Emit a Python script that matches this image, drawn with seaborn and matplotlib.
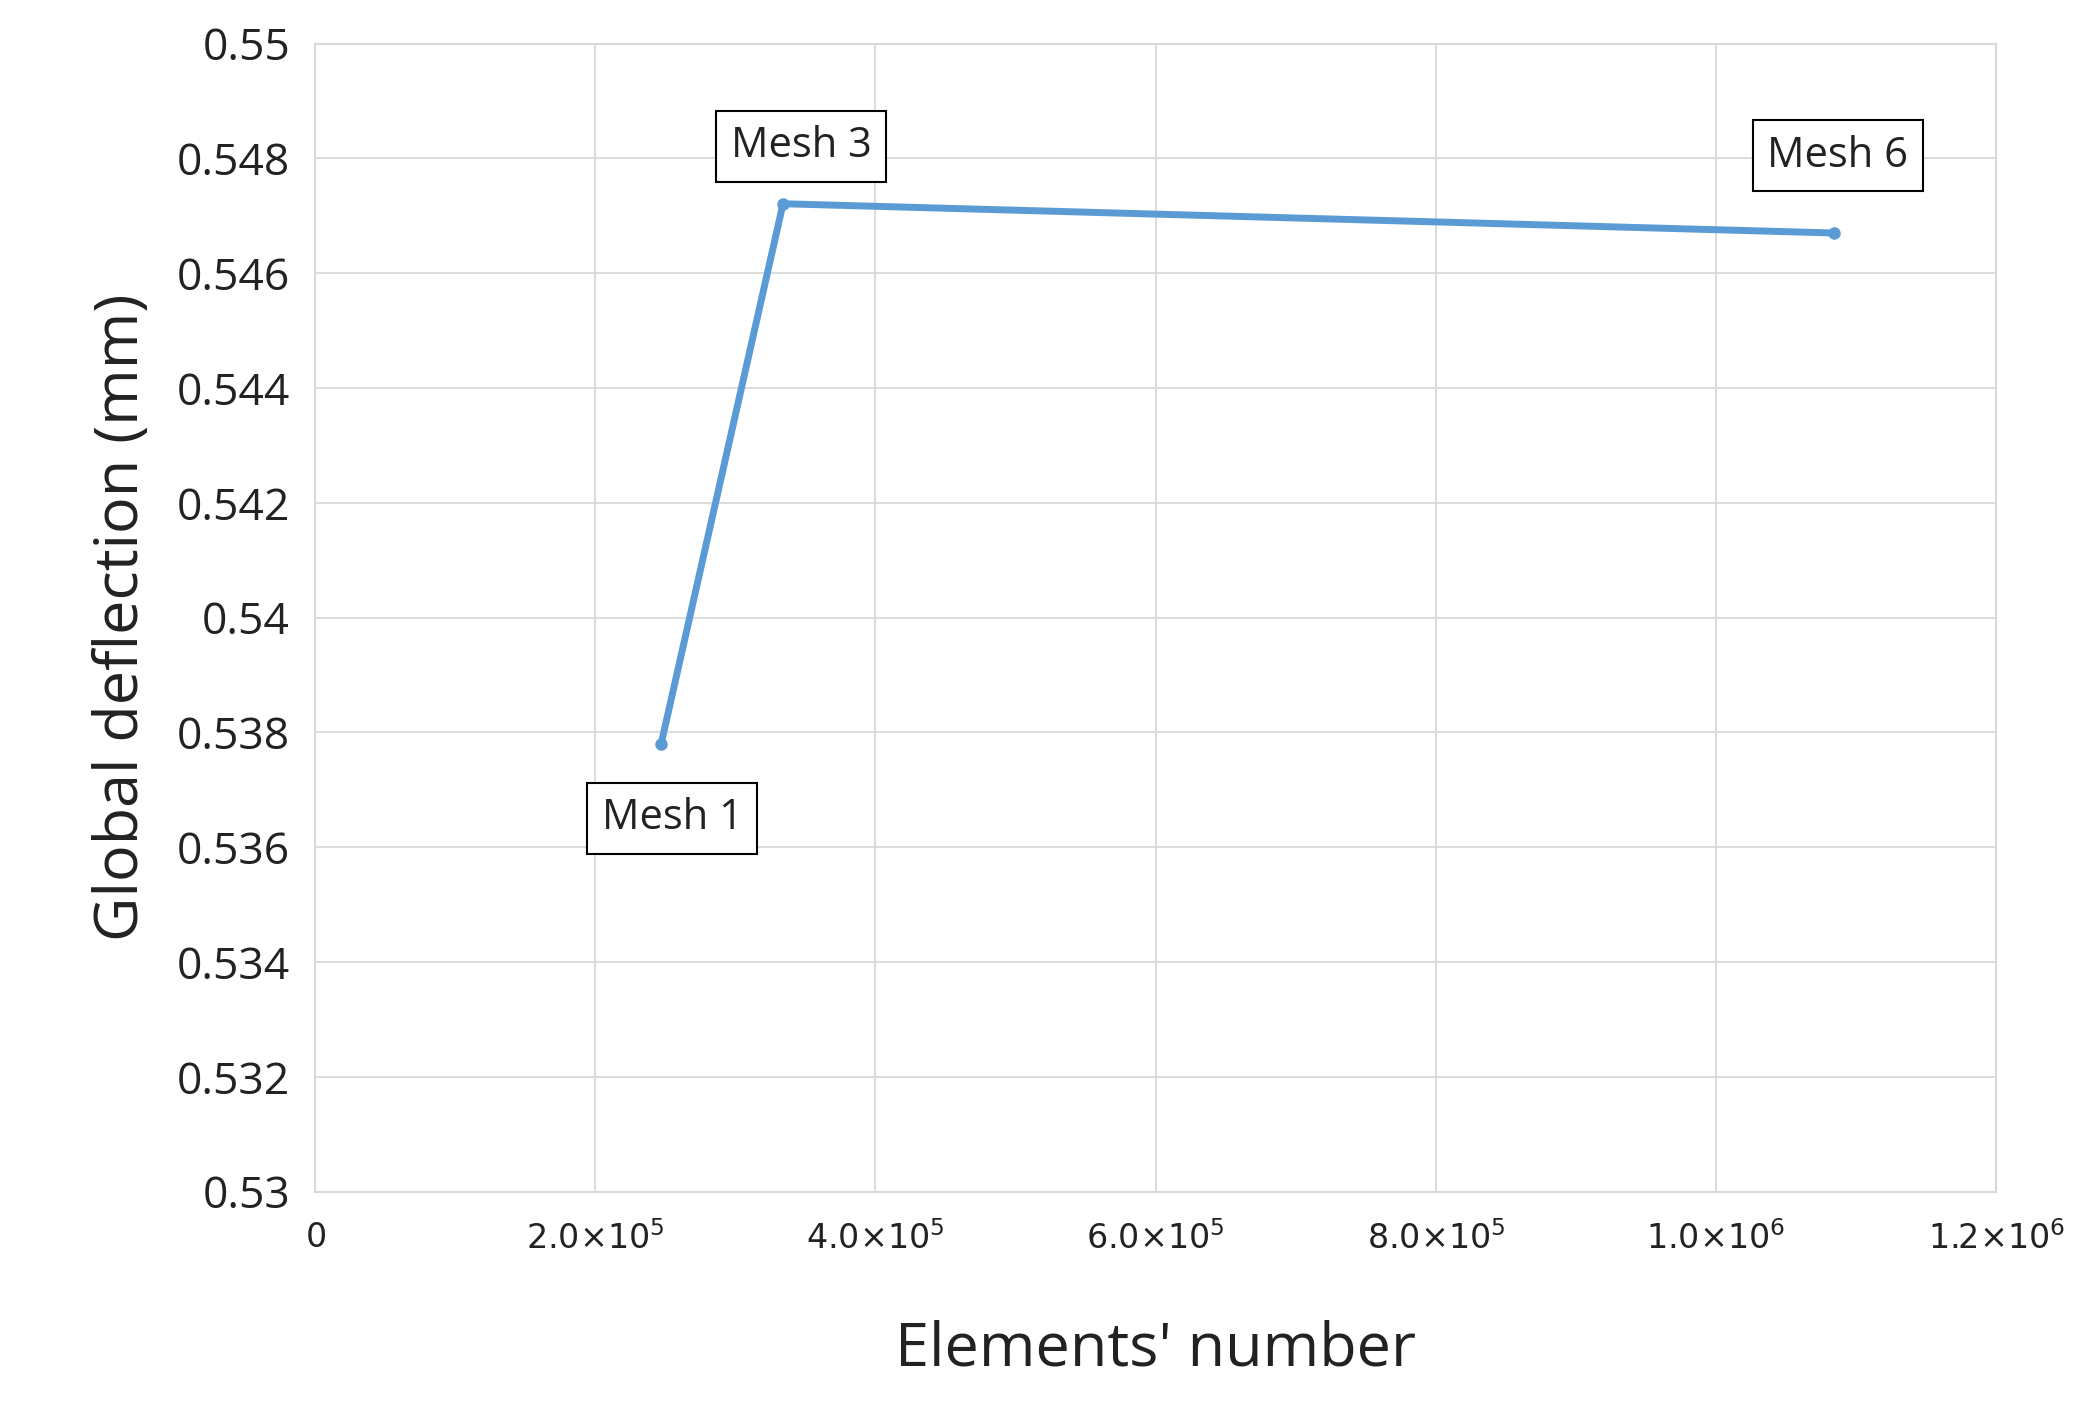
import matplotlib
matplotlib.use("Agg")
import matplotlib.pyplot as plt
import seaborn as sns
import pandas as pd
from matplotlib.ticker import FixedLocator, FuncFormatter

sns.set_style("whitegrid")
plt.rcParams['font.family'] = ['Open Sans', 'DejaVu Sans']
plt.rcParams['text.color'] = '#222222'
plt.rcParams['xtick.color'] = '#222222'
plt.rcParams['ytick.color'] = '#222222'
plt.rcParams['axes.labelcolor'] = '#222222'

# Data
elements = [2.47e5, 3.34e5, 1.084e6]
deflection = [0.5378, 0.54721, 0.5467]
labels = ['Mesh 1', 'Mesh 3', 'Mesh 6']

df = pd.DataFrame({'elements': elements, 'deflection': deflection})

fig = plt.figure(figsize=(20.73, 14.06), dpi=100)
ax = fig.add_axes([0.152, 0.1525, 0.811, 0.8165])

sns.lineplot(data=df, x='elements', y='deflection', ax=ax, color='#5B9BD5',
             linewidth=5, marker='o', markersize=9, markeredgewidth=0)

ax.set_xlim(0, 1.2e6)
ax.set_ylim(0.53, 0.55)
ax.xaxis.set_major_locator(FixedLocator([0, 2e5, 4e5, 6e5, 8e5, 1e6, 1.2e6]))
ax.yaxis.set_major_locator(FixedLocator([0.53 + 0.002 * i for i in range(11)]))


def xfmt(v, pos):
    if v == 0:
        return r'$0$'
    exp = 6 if v >= 1e6 else 5
    return r'$%.1f{\times}10^{%d}$' % (v / 10 ** exp, exp)


def yfmt(v, pos):
    return ('%.3f' % v).rstrip('0').rstrip('.')


ax.xaxis.set_major_formatter(FuncFormatter(xfmt))
ax.yaxis.set_major_formatter(FuncFormatter(yfmt))
ax.tick_params(axis='y', labelsize=32, pad=18, length=0)
ax.tick_params(axis='x', labelsize=24, pad=22, length=0)

for sp in ax.spines.values():
    sp.set_color('#d9d9d9')
    sp.set_linewidth(1.5)
ax.grid(color='#d9d9d9', linewidth=1.3)

ax.set_xlabel("Elements' number", fontsize=44, labelpad=45)
ax.set_ylabel('Global deflection (mm)', fontsize=44, labelpad=18)

box = dict(boxstyle='square,pad=0.35', facecolor='white', edgecolor='black', linewidth=1.5)
offsets = [(0.08e5, -0.0013), (0.13e5, 0.001), (0.03e5, 0.00135)]
for x, y, lab, (dx, dy) in zip(elements, deflection, labels, offsets):
    ax.text(x + dx, y + dy, lab, fontsize=30, ha='center', va='center', bbox=box)

fig.savefig('out.png', dpi=100)
